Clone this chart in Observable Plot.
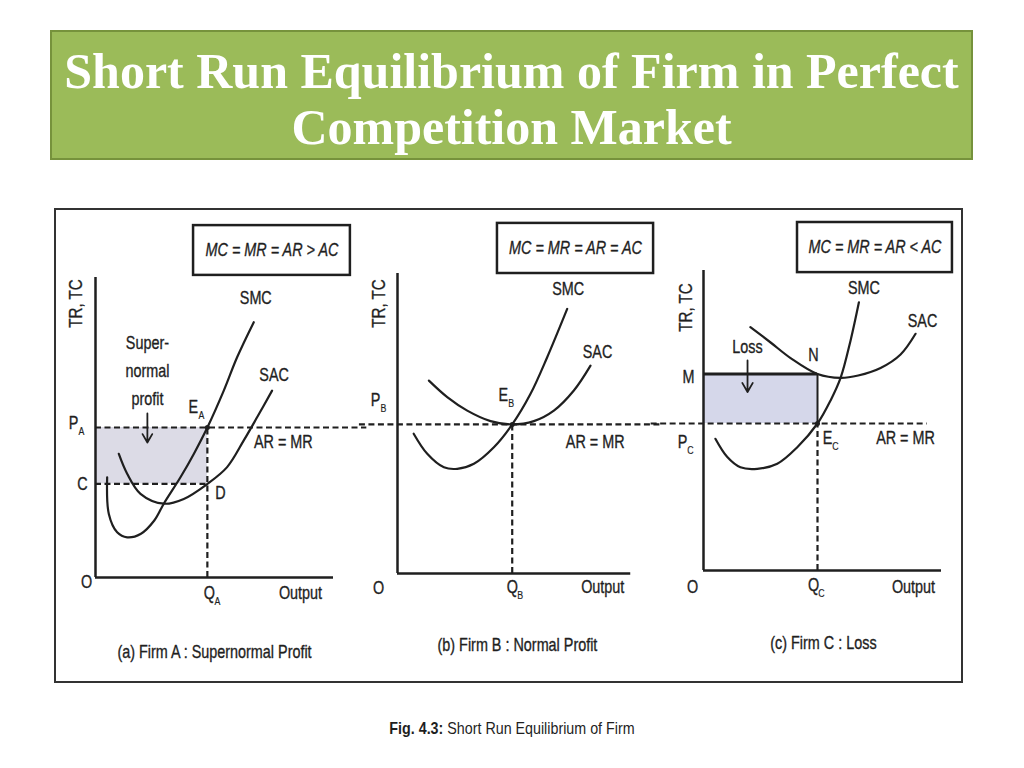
<!DOCTYPE html>
<html>
<head>
<meta charset="utf-8">
<script src="https://cdn.jsdelivr.net/npm/d3@7"></script>
<script src="https://cdn.jsdelivr.net/npm/@observablehq/plot@0.6"></script>
<style>
html,body{margin:0;padding:0;background:#fff;}
#page{position:relative;width:1024px;height:768px;overflow:hidden;background:#fff;}
#titlebox{position:absolute;left:50px;top:30px;width:923px;height:130px;box-sizing:border-box;background:#9bbb59;border:2px solid #76923c;}
#title{position:absolute;left:50px;top:43px;width:923px;text-align:center;color:#fff;font:bold 50px "Liberation Serif","DejaVu Serif",serif;line-height:56px;}
#frame{position:absolute;left:54px;top:208px;width:909px;height:475px;box-sizing:border-box;border:2px solid #333;}
.panel{position:absolute;top:207px;}
#caption{position:absolute;left:0;top:719px;width:1024px;text-align:center;font:17px 'Liberation Sans',Arial,sans-serif;color:#1f1f1f;}
#caption span{display:inline-block;transform:scaleX(0.84);transform-origin:center;white-space:nowrap;}
#caption b{font-weight:bold;}
</style>
</head>
<body>
<div id="page">
  <div id="titlebox"></div>
  <div id="title"></div>
  <div id="frame"></div>
  <div id="pa" class="panel" style="left:56px"></div>
  <div id="pb" class="panel" style="left:359px"></div>
  <div id="pc" class="panel" style="left:659px"></div>
  <div id="caption"></div>
</div>
<script>
// ---------- data ----------
const titleLines = ["Short Run Equilibrium of Firm in Perfect", "Competition Market"];
const figLabel = "Fig. 4.3:";
const figText = " Short Run Equilibrium of Firm";

const firms = ["A", "B", "C"];
const conditions = ["MC = MR = AR > AC", "MC = MR = AR = AC", "MC = MR = AR < AC"];
const panelCaptions = ["(a) Firm A : Supernormal Profit", "(b) Firm B : Normal Profit", "(c) Firm C : Loss"];
const axisY = "TR, TC";
const axisX = "Output";
const curveNames = ["SMC", "SAC"];
const priceLine = "AR = MR";

// equilibrium price, output and average cost at that output (per firm)
const price = [5.0, 4.97, 4.9];
const outputQ = [4.7, 4.82, 4.79];
const avgCost = [3.12, 4.97, 6.55];

// cost curves [output, cost]
const smcA = [[0.49,3.34],[0.56,2.12],[0.91,1.51],[1.33,1.34],[1.91,1.46],[2.47,1.9],[2.87,2.46],[3.57,3.34],[4.13,4.12],[4.70,5.0],[5.39,6.23],[5.95,7.34],[6.65,8.51]];
const sacA = [[0.98,4.12],[1.33,3.46],[1.89,2.79],[2.87,2.46],[3.71,2.62],[4.70,3.12],[5.53,3.68],[6.23,4.57],[6.79,5.34],[7.42,6.23]];
const smcB = [[0.68,4.66],[1.25,3.99],[1.95,3.54],[2.51,3.49],[3.21,3.66],[4.05,4.21],[4.82,4.97],[5.59,5.99],[6.29,7.21],[7.13,8.82]];
const sacB = [[1.32,6.43],[2.09,5.88],[2.93,5.43],[3.91,5.08],[4.82,4.97],[5.73,5.08],[6.57,5.43],[7.41,6.1],[8.11,6.93]];
const smcC = [[0.5,4.39],[1.0,3.78],[1.55,3.44],[2.26,3.39],[3.1,3.56],[3.94,4.11],[4.79,4.9],[5.34,5.67],[5.76,6.42],[6.18,7.67],[6.53,8.94]];
const sacC = [[1.97,8.11],[2.82,7.6],[3.66,7.08],[4.79,6.55],[5.76,6.42],[6.5,6.5],[7.44,6.75],[8.28,7.2],[8.91,7.89]];

// ---------- page text ----------
document.getElementById("title").innerHTML = titleLines.join("<br>");
document.getElementById("caption").innerHTML = "<span><b>" + figLabel + "</b>" + figText + "</span>";

// ---------- helpers ----------
const ink = "#1f1f1f";
const SANS = "'Liberation Sans',Arial,sans-serif";
const dashed = {stroke: ink, strokeWidth: 2.2, strokeDasharray: "6,3.5"};
const solid = {stroke: ink, strokeWidth: 2.5};
const curveStyle = {x: d => d[0], y: d => d[1], curve: "catmull-rom", stroke: ink, strokeWidth: 2.2};

function txt(x, y, s, o = {}) {
  return Plot.text([s], {x: [x], y: [y], text: [s], fontFamily: SANS, fontSize: 18, fill: ink, stroke: ink, strokeWidth: 0.35, ...o});
}
function subLabel(x, y, main, sub, dx, dy) {
  return [txt(x, y, main, {dx, dy}), txt(x, y, sub, {dx: dx + 8, dy: dy + 8, fontSize: 11, strokeWidth: 0.2})];
}
function box(b, label) {
  return [
    Plot.rect([b], {x1: "x1", x2: "x2", y1: "y1", y2: "y2", fill: "none", stroke: ink, strokeWidth: 2.5}),
    txt((b.x1 + b.x2) / 2, (b.y1 + b.y2) / 2, label, {fontStyle: "italic", fontSize: 18})
  ];
}
function arrow(a) {
  return Plot.arrow([a], {x1: "x1", y1: "y1", x2: "x2", y2: "y2", stroke: ink, strokeWidth: 1.8, headLength: 9});
}
function last(arr) { return arr[arr.length - 1]; }

// narrow the glyphs horizontally (Arial Narrow look); positions stay in the translate
function narrow(svg) {
  d3.select(svg).selectAll("text").each(function() {
    const t = this.getAttribute("transform") || "";
    this.setAttribute("transform", t + " scale(0.8,1)");
  });
}

function panel(el, L, ox, oy, W, marks) {
  const T = 207;
  const chart = Plot.plot({
    width: W, height: 476,
    margin: 0,
    style: {background: "transparent", overflow: "visible"},
    x: {domain: [0, 10], range: [ox - L, ox - L + 238], axis: null},
    y: {domain: [0, 10], range: [oy - T, oy - T - 300], axis: null},
    marks
  });
  narrow(chart);
  document.getElementById(el).appendChild(chart);
}

// ---------- panel (a) ----------
{
  const i = 0, p = price[i], q = outputQ[i], c = avgCost[i];
  panel("pa", 56, 95, 577, 303, [
    Plot.rect([{x1: 0, x2: q, y1: c, y2: p}], {x1: "x1", x2: "x2", y1: "y1", y2: "y2", fill: "#dcdbe6"}),
    Plot.ruleY([p], {x1: 0, x2: 11.4, ...dashed}),
    Plot.ruleY([c], {x1: 0, x2: q, ...dashed}),
    Plot.ruleX([q], {y1: 0, y2: p, ...dashed}),
    Plot.ruleX([0], {y1: 0, y2: 10, ...solid}),
    Plot.ruleY([0], {x1: 0, x2: 10, ...solid}),
    Plot.line(smcA, curveStyle),
    Plot.line(sacA, curveStyle),
    Plot.dot([[q, p]], {x: d => d[0], y: d => d[1], r: 2.5, fill: ink}),
    ...subLabel(0, p, "P", firms[i], -22, -4),
    txt(0, c, "C", {dx: -13}),
    ...subLabel(q, p, "E", firms[i], -14, -20),
    ...subLabel(q, 0, "Q", firms[i], 2, 16),
    txt(0, 0, "O", {dx: -9, dy: 5}),
    txt(q, c, "D", {dx: 13, dy: 9}),
    txt(10, 0, axisX, {dx: -33, dy: 16}),
    txt(0, 10, axisY, {dx: -20, dy: 26, rotate: -90, fontSize: 19}),
    txt(last(smcA)[0], last(smcA)[1], curveNames[0], {dx: 2, dy: -24}),
    txt(last(sacA)[0], last(sacA)[1], curveNames[1], {dx: 2, dy: -15}),
    txt(q, p, priceLine, {dx: 76, dy: 15}),
    txt(2.18, 6.97, "Super-\nnormal\nprofit", {lineHeight: 1.55}),
    arrow({x1: 2.18, y1: 5.47, x2: 2.18, y2: 4.5}),
    ...box({x1: 4.12, x2: 10.71, y1: 10.07, y2: 11.73}, conditions[i]),
    txt(5, 0, panelCaptions[i], {dy: 75, fontSize: 18})
  ]);
}

// ---------- panel (b) ----------
{
  const i = 1, p = price[i], q = outputQ[i];
  panel("pb", 359, 397, 573, 300, [
    Plot.ruleY([p], {x1: -1.6, x2: 11.1, ...dashed}),
    Plot.ruleX([q], {y1: 0, y2: p, ...dashed}),
    Plot.ruleX([0], {y1: 0, y2: 10, ...solid}),
    Plot.ruleY([0], {x1: 0, x2: 9.8, ...solid}),
    Plot.line(smcB, curveStyle),
    Plot.line(sacB, curveStyle),
    Plot.dot([[q, p]], {x: d => d[0], y: d => d[1], r: 2.5, fill: ink}),
    ...subLabel(0, p, "P", firms[i], -22, -24),
    ...subLabel(q, p, "E", firms[i], -9, -29),
    ...subLabel(q, 0, "Q", firms[i], 0, 14),
    txt(0, 0, "O", {dx: -19, dy: 15}),
    txt(9.8, 0, axisX, {dx: -28, dy: 14}),
    txt(0, 10, axisY, {dx: -19, dy: 30, rotate: -90, fontSize: 19}),
    txt(last(smcB)[0], last(smcB)[1], curveNames[0], {dx: 1, dy: -20}),
    txt(last(sacB)[0], last(sacB)[1], curveNames[1], {dx: 7, dy: -13}),
    txt(q, p, priceLine, {dx: 83, dy: 18}),
    ...box({x1: 4.2, x2: 10.76, y1: 10.0, y2: 11.67}, conditions[i]),
    txt(5.04, 0, panelCaptions[i], {dy: 72, fontSize: 18})
  ]);
}

// ---------- panel (c) ----------
{
  const i = 2, p = price[i], q = outputQ[i], m = avgCost[i];
  panel("pc", 659, 703, 570, 302, [
    Plot.rect([{x1: 0, x2: q, y1: p, y2: m}], {x1: "x1", x2: "x2", y1: "y1", y2: "y2", fill: "#d5d7ea"}),
    Plot.ruleY([p], {x1: -2.2, x2: 9.4, ...dashed}),
    Plot.ruleY([m], {x1: 0, x2: q, stroke: ink, strokeWidth: 3}),
    Plot.ruleX([q], {y1: p, y2: m, stroke: ink, strokeWidth: 2}),
    Plot.ruleX([q], {y1: 0, y2: p, ...dashed}),
    Plot.ruleX([0], {y1: 0, y2: 10, ...solid}),
    Plot.ruleY([0], {x1: 0, x2: 10, ...solid}),
    Plot.line(smcC, curveStyle),
    Plot.line(sacC, curveStyle),
    Plot.dot([[q, p]], {x: d => d[0], y: d => d[1], r: 2.5, fill: ink}),
    ...subLabel(0, p, "P", firms[i], -21, 19),
    txt(0, m, "M", {dx: -15, dy: 3}),
    ...subLabel(q, p, "E", firms[i], 10, 15),
    txt(q, m, "N", {dx: -4, dy: -19}),
    ...subLabel(q, 0, "Q", firms[i], -4, 15),
    txt(0, 0, "O", {dx: -11, dy: 17}),
    txt(10, 0, axisX, {dx: -28, dy: 17}),
    txt(0, 10, axisY, {dx: -18, dy: 37, rotate: -90, fontSize: 19}),
    txt(last(smcC)[0], last(smcC)[1], curveNames[0], {dx: 5, dy: -14}),
    txt(last(sacC)[0], last(sacC)[1], curveNames[1], {dx: 7, dy: -13}),
    txt(q, p, priceLine, {dx: 88, dy: 15}),
    txt(1.85, 7.43, "Loss"),
    arrow({x1: 1.85, y1: 7.0, x2: 1.85, y2: 5.95}),
    ...box({x1: 3.95, x2: 10.46, y1: 9.93, y2: 11.6}, conditions[i]),
    txt(5.04, 0, panelCaptions[i], {dy: 73, fontSize: 18})
  ]);
}
</script>
</body>
</html>
